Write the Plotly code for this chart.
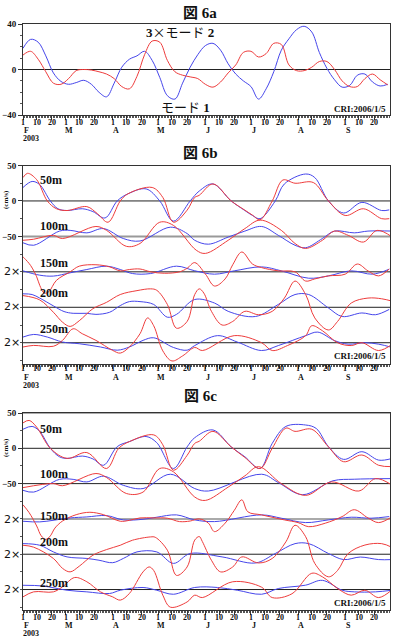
import pandas as pd
import plotly.graph_objects as go

W, H = 395, 640
START = pd.Timestamp("2003-02-01")
END = pd.Timestamp("2003-09-30 12:00")

MONTHS = [2, 3, 4, 5, 6, 7, 8, 9]
MONTH_LETTERS = ["F", "M", "A", "M", "J", "J", "A", "S"]
TICK_DAYS = [1, 10, 20]
YEAR_LABEL = "2003"

# ---------------- Panel 6a (day offsets from 2003-02-01) ----------------
A_DAYS = list(range(0, 241, 5))
a_mode2_x3 = [18.6, 26.5, 24, 12, -3, -10.5, -13, -11.5, -9.5, -13, -20, -24, -12, 2, 9, 12,
              16, 8, -7, -23, -26, -12, 2, 13, 21, 23, 17, 5, -4, -10, -15, -26, -17, -2,
              17, 27, 35, 38, 33, 15, 1, -9, -15.5, -14, -5, -4, -11, -14.5, -13]
a_mode1 = [12.7, 16, 9, -2, -12, -13, -8, -1, 0, -0.5, -2, -4, -8, -15, -17, -6, 13, 25, 24,
           8, -2, -5, -6.5, -8, -13, -15.5, -11, -3, 4, 15, 16, 11, 14, 23, 22, 4, -1, -1, 2,
           7, 7, 0, -10, -15, -15, -8, -4, -9, -13.5]

# ---------------- Panel 6b (deviation from each depth's baseline) ----------------
b50_blue_d = [0, 6, 11, 18, 23, 29, 39, 46, 54, 62, 69, 81, 90, 99, 110, 116, 125, 137, 146, 151, 156, 166, 172, 186, 192, 201, 211, 223, 236, 241]
b50_blue_v = [19, 27.5, 23, 0, -11, -13.5, -11, -15, -24, 0, 10, 17, 0, -28.5, 0, 14, 24, 0, -13.5, -20.5, -25, 0, 24, 38, 33, 0, -17, -2, -13.5, -12.6]
b50_red_d = [0, 3, 9, 16, 22, 29, 42, 49, 56, 64, 69, 85, 92, 99, 108, 113, 116, 125, 137, 146, 151, 156, 164, 171, 179, 191, 201, 212, 224, 236, 241]
b50_red_v = [33, 39, 30, 0, -11, -13.5, -8, -18, -30, 0, 10, 19, 5, -30, -13, 5, 8, 24, 0, -13, -20, -26.5, 0, 29.5, 25, 26, 0, -20.5, -11, -25, -25]

b100_blue_d = [0, 7, 24, 31, 42, 53, 66, 77, 97, 108, 113, 122, 135, 146, 157, 168, 179, 186, 197, 205, 218, 227, 243]
b100_blue_v = [-9, -12.5, 7.5, 8.5, 5, 11, -3, -6.5, 13, 4, -5.5, -11, -1, 7.5, 14, 1.5, -12.5, -16, -3, 7.5, 5, 7.5, 7.5]
b100_red_d = [0, 7, 20, 26, 48, 55, 68, 77, 90, 99, 114, 120, 135, 146, 156, 170, 179, 186, 197, 205, 214, 224, 233, 243]
b100_red_v = [-5.5, -4, 1.5, -3, 14, 8.5, -14, -10, 20, 15.5, -19.5, -24, -5.5, 11, 23, 8.5, -10, -17, -5.5, 7.5, 1.5, -8, 8.5, -1]

b150_blue_d = [0, 11, 20, 31, 42, 55, 64, 72, 84, 101, 113, 126, 139, 157, 170, 188, 201, 216, 230, 241]
b150_blue_v = [1.4, -4.7, -6, -1.4, 3.3, 8, 3.3, -2.4, -2.4, 8, 1.5, -3.3, 1.4, 7, 1.4, -9, -5.7, 1.4, -3.3, 3.8]
b150_red_d = [0, 1, 5, 9, 11, 14, 17, 22, 31, 37, 48, 57, 64, 70, 77, 84, 93, 103, 108, 113, 120, 126, 133, 138, 144, 151, 157, 168, 179, 186, 192, 201, 212, 220, 227, 234, 241]
b150_red_v = [21, 19, 9, -7, -19, -30, -28, -12, 0, 8, 10, 7, 1.4, 3.3, 4, 0, -2, 0, 5, 13, -3, -20, -10, 10, 28, 11, 6, 1.4, 0, -13, -10, -5.7, -3.3, 11, 1.4, -5.7, 4]

b200_blue_d = [0, 6, 11, 20, 27, 33, 42, 48, 57, 64, 70, 77, 86, 95, 101, 113, 126, 135, 153, 168, 179, 188, 201, 210, 223, 232, 241]
b200_blue_v = [19, 18, 13, 2, -6, -8.5, -8.5, -10, -7, 2.4, 8, 8, 4, -14, -10, 11, 6, -5.7, -13, 4, 18, 18, -1, -13, -8, -10.5, -3]
b200_red_d = [0, 11, 20, 26, 31, 37, 46, 55, 64, 75, 84, 88, 95, 101, 108, 113, 116, 119, 124, 131, 138, 146, 155, 164, 172, 179, 186, 192, 201, 207, 216, 227, 236, 243]
b200_red_v = [16.5, 10.4, -7, -21, -27, -19, -2, 7, 18, 23.5, 26, 24, 4, -29.5, -20, 18, 26, 20, -5.7, -25, -20, -5.7, -10.5, -5.7, 13, 37, 18, -15, -32, -20, 6, 13, 12, 8.6]

b250_blue_d = [0, 7, 16, 26, 37, 51, 62, 70, 79, 86, 99, 108, 113, 128, 141, 157, 168, 186, 194, 205, 214, 225, 234, 243]
b250_blue_v = [8, 11.7, 8, 1, -1.4, -6, -10.5, -6, 3.3, 7, -6.7, -10.5, -4, 10, 1, -11, -4, 10, 15, 3, -2, 0, -2, -6.7]
b250_red_d = [0, 7, 20, 26, 33, 39, 48, 59, 64, 70, 77, 82, 86, 92, 98, 105, 113, 118, 139, 157, 164, 174, 186, 190, 197, 207, 216, 223, 234, 243]
b250_red_v = [-6, -3.8, -5, 3.3, 19.7, 12.7, 3.3, -10.8, -14.6, -6, 12.7, 35, 24, -11.5, -25.7, -18.6, -6.7, -11, 10, 0, -11, -4, 10, 24, 17, 0, -4, 0, -11, -2]

# ---------------- Panel 6c ----------------
c50_blue_d = [0, 6, 11, 18, 24, 29, 39, 46, 53, 62, 70, 81, 88, 99, 108, 113, 125, 137, 146, 156, 164, 173, 186, 193, 201, 211, 223, 234, 243]
c50_blue_v = [27, 31, 24, 0, -12, -14.3, -11, -15, -24, 2.4, 9.5, 16.7, 8, -28.6, 2, 15, 26, 2, -12, -28.6, 7, 31, 33, 28, 2.4, -15.7, -4.8, -16.7, -14.3]
c50_red_d = [0, 4, 9, 18, 29, 42, 55, 63, 70, 86, 92, 99, 108, 113, 116, 125, 137, 146, 156, 164, 173, 179, 190, 201, 211, 223, 234, 243]
c50_red_v = [36, 39.5, 30, 0, -14.3, -6, -28.6, 0, 9.5, 19, 5, -31, -10, 7, 10, 24, 2, -13, -28.6, 0, 28.6, 24, 27, 2, -19, -9.5, -24, -26]

c100_blue_d = [0, 7, 24, 33, 42, 53, 66, 79, 97, 113, 122, 157, 168, 184, 204, 218, 243]
c100_blue_v = [-9.5, -12, 6, 6, 2.4, 10.5, -2.4, -7, 13.3, -7, -10.5, 13.3, 1.5, -15.7, 4, 6.2, 7.1]
c100_red_d = [0, 20, 26, 48, 55, 68, 79, 90, 99, 113, 120, 135, 146, 155, 170, 186, 203, 221, 232, 243]
c100_red_v = [-5.7, 0, -3, 14.3, 8.6, -14, -12, 21.4, 16.7, -19, -23.8, -5, 11, 24, 0, -16.7, 2.4, -10.5, 7.1, -2.4]

c150_blue_d = [0, 11, 31, 42, 55, 66, 79, 88, 101, 113, 126, 157, 170, 186, 201, 216, 229, 241]
c150_blue_v = [-3.3, -4.2, 1.4, 2.8, 4.7, -1.4, -0.5, 2.4, 5.7, -1.4, -3.8, 5.7, 1, -5.2, -1.4, 2.4, 1, 3.3]
c150_red_d = [0, 4, 9, 12, 15, 18, 21, 26, 35, 44, 53, 64, 70, 77, 86, 95, 103, 110, 116, 122, 126, 133, 139, 144, 148, 157, 172, 181, 188, 199, 210, 218, 227, 234, 243]
c150_red_v = [20, 9, -10, -24, -29, -24, -13, -3, 6, 9.4, 6, -3.3, -2, 1.4, 1.4, 1, -3.8, -3, 0, -6, -18, -6, 12, 27, 10, 5.7, -1.4, -5.2, -11, -6, 3.3, 13, 1.4, -5.2, 3.3]

c200_blue_d = [0, 11, 20, 29, 42, 50, 59, 66, 75, 88, 99, 110, 131, 153, 166, 179, 188, 201, 211, 222, 234, 243]
c200_blue_v = [15, 12.7, 3.3, -3.8, -6, -8.5, -12, -6, 3.3, 3.3, -13, 1, -3.8, -12.4, 1, 15, 15, 1, -7.6, -4, -7.6, -7.6]
c200_red_d = [0, 7, 20, 26, 31, 37, 46, 55, 64, 72, 84, 87, 95, 101, 108, 113, 116, 118, 124, 130, 138, 144, 155, 164, 173, 179, 186, 192, 201, 207, 214, 225, 236, 243]
c200_red_v = [12.7, 10, -6, -20, -25, -17, -1.4, 6.6, 12.7, 19.8, 24.5, 24, 5.7, -30, -18, 20, 25, 18, -8.6, -25, -18, -3.8, -12.4, -6, 17.6, 41, 24.8, -13, -32, -23, 1, 13, 15, 9.5]

c250_blue_d = [0, 13, 29, 42, 57, 64, 79, 88, 99, 113, 128, 141, 157, 168, 186, 197, 210, 218, 232, 243]
c250_blue_v = [6, 5, -1, -3.3, -5.6, -1, 2.9, -1, -6.7, 2.9, 2.9, -1, -6.7, 1.4, 6.2, 13, -1, -3.3, -3.3, -1]
c250_red_d = [0, 7, 20, 26, 34, 42, 51, 59, 64, 70, 79, 83, 86, 92, 97, 108, 113, 118, 138, 157, 164, 177, 190, 197, 208, 216, 225, 234, 243]
c250_red_v = [-10.4, -3.3, -3.3, 3.8, 17, 11, -3.3, -10.4, -15, -5.6, 25, 32, 27, -8, -25, -17.6, -8, -11.4, 11, 3.3, -11.4, -6, 23, 18, 0, -8, -1, -11.4, 0]

DEPTHS = ["50m", "100m", "150m", "200m", "250m"]
BASELINES = [0, -50, -100, -150, -200]

BLUE = "rgb(70,70,235)"
RED = "rgb(238,60,60)"
SERIF = "Liberation Serif"
CJK = "Noto Sans CJK JP"


def to_dates(days):
    return [START + pd.Timedelta(days=int(d)) for d in days]


def fx(x):
    return x / W


def fy(y):
    return 1 - y / H


fig = go.Figure()


def add_line(days, vals, base, color, n):
    fig.add_trace(go.Scatter(
        x=to_dates(days), y=[base + v for v in vals], mode="lines",
        line=dict(color=color, width=1, shape="spline", smoothing=1.0),
        xaxis="x" if n == 1 else f"x{n}", yaxis="y" if n == 1 else f"y{n}",
        showlegend=False, hoverinfo="skip"))


add_line(A_DAYS, a_mode2_x3, 0, BLUE, 1)
add_line(A_DAYS, a_mode1, 0, RED, 1)

panel_b = [(b50_blue_d, b50_blue_v, b50_red_d, b50_red_v),
           (b100_blue_d, b100_blue_v, b100_red_d, b100_red_v),
           (b150_blue_d, b150_blue_v, b150_red_d, b150_red_v),
           (b200_blue_d, b200_blue_v, b200_red_d, b200_red_v),
           (b250_blue_d, b250_blue_v, b250_red_d, b250_red_v)]
panel_c = [(c50_blue_d, c50_blue_v, c50_red_d, c50_red_v),
           (c100_blue_d, c100_blue_v, c100_red_d, c100_red_v),
           (c150_blue_d, c150_blue_v, c150_red_d, c150_red_v),
           (c200_blue_d, c200_blue_v, c200_red_d, c200_red_v),
           (c250_blue_d, c250_blue_v, c250_red_d, c250_red_v)]
for n, panel in ((2, panel_b), (3, panel_c)):
    for base, (bd, bv, rd, rv) in zip(BASELINES, panel):
        add_line(bd, bv, base, BLUE, n)
        add_line(rd, rv, base, RED, n)

tickvals = [pd.Timestamp(2003, m, d) for m in MONTHS for d in TICK_DAYS]
ticktext = [str(d) for m in MONTHS for d in TICK_DAYS]
tickfont = dict(family=SERIF, size=9, color="#111", weight="bold")
smallfont = dict(family=SERIF, size=8, color="#111", weight="bold")
XDOM = [fx(23), fx(390)]

panels = {
    1: dict(top=24, bot=115, rng=[-40, 40], tv=[40, 0, -40], minor=10),
    2: dict(top=165.5, bot=364, rng=[-230, 50], tv=[50, 0, -50], minor=25),
    3: dict(top=413, bot=610, rng=[-229, 50], tv=[50, 0, -50], minor=25),
}
layout = dict(width=W, height=H, margin=dict(l=0, r=0, t=0, b=0, autoexpand=False),
              paper_bgcolor="white", plot_bgcolor="white", showlegend=False)
for n, p in panels.items():
    xk = "xaxis" if n == 1 else f"xaxis{n}"
    yk = "yaxis" if n == 1 else f"yaxis{n}"
    ya = "y" if n == 1 else f"y{n}"
    xa = "x" if n == 1 else f"x{n}"
    layout[xk] = dict(domain=XDOM, anchor=ya, type="date", range=[START, END],
                      tickvals=tickvals, ticktext=ticktext, showticklabels=False,
                      ticks="outside", ticklen=4, tickcolor="#333", showgrid=False,
                      showline=True, linecolor="#333", linewidth=1, mirror=True,
                      automargin=False,
                      minor=dict(ticks="outside", ticklen=2, dtick=86400000,
                                 tick0="2003-02-01", tickcolor="#555", showgrid=False),
                      zeroline=False)
    layout[yk] = dict(domain=[fy(p["bot"]), fy(p["top"])], anchor=xa, range=p["rng"],
                      tickvals=p["tv"], tickfont=tickfont, ticks="outside", ticklen=4,
                      tickcolor="#333", showgrid=False, zeroline=False, showline=True,
                      linecolor="#333", linewidth=1, mirror=True, automargin=False,
                      minor=dict(ticks="outside", ticklen=2, dtick=p["minor"],
                                 tick0=0, tickcolor="#555", showgrid=False))
    rk = f"yaxis{n + 3}"
    layout[rk] = dict(overlaying=ya, side="right", anchor=xa, range=p["rng"],
                      domain=[fy(p["bot"]), fy(p["top"])], showticklabels=False,
                      ticks="inside", ticklen=3, tickcolor="#555", dtick=p["minor"],
                      tick0=0, showgrid=False, zeroline=False, showline=False,
                      automargin=False)

shapes = []


def hline(n, yv, color="#222", width=1):
    shapes.append(dict(type="line", xref=("x" if n == 1 else f"x{n}") + " domain",
                       yref="y" if n == 1 else f"y{n}", x0=0, x1=1, y0=yv, y1=yv,
                       line=dict(color=color, width=width), layer="below"))


hline(1, 0)
hline(2, 0)
hline(2, -50, "#999", 2)
hline(2, -100)
hline(2, -150)
hline(2, -200)
hline(3, 50, "#aaa", 2)
hline(3, 0)
hline(3, -50)
hline(3, -100, "#aaa", 2)
hline(3, -150)
hline(3, -200)
layout["shapes"] = shapes

ann = []


def text(t, x, y, size, family=SERIF, anchor="center", bold=True, color="#111", angle=0):
    ann.append(dict(text=t, x=fx(x), y=fy(y), xref="paper", yref="paper",
                    xanchor=anchor, yanchor="middle", showarrow=False, textangle=angle,
                    font=dict(family=family, size=size, color=color,
                              weight="bold" if bold else "normal")))


TITLES = ["6a", "6b", "6c"]
for label, y in zip(TITLES, [11, 151, 394]):
    text(f'<span style="font-family:{CJK}">図</span> {label}', 200, y, 15)

text(f'3<span style="font-family:{CJK};font-weight:normal">×モード</span> 2', 180, 31, 13)
text(f'<span style="font-family:{CJK};font-weight:normal">モード</span> 1', 185, 106, 13)

for y in [109, 356, 603]:
    text("CRI:2006/1/5", 388, y, 9, anchor="right")

for ys in ([180, 226, 263, 293, 329], [429, 474, 516, 542, 583]):
    for lab, y in zip(DEPTHS, ys):
        text(lab, 38, y, 12, anchor="left")

for y in [271.7, 306, 342, 519, 554, 589]:
    text("2×", 2, y, 11, family="DejaVu Sans", anchor="left", bold=False)

for y in [200, 448]:
    text("(cm/s)", 6, y, 7, angle=-90)

# date axis labels: day numbers, month initials, year
for n, yt, ym, yy in ((1, 122.5, 130, 138.5), (2, 368.5, 377, 385.5), (3, 617.5, 625, 633)):
    xa = "x" if n == 1 else f"x{n}"
    for tv, tt in zip(tickvals, ticktext):
        ann.append(dict(text=tt, x=tv, y=fy(yt), xref=xa, yref="paper",
                        xanchor="center", yanchor="middle", showarrow=False,
                        font=smallfont, borderpad=0))
    for m, letter in zip(MONTHS, MONTH_LETTERS):
        ann.append(dict(text=letter, x=pd.Timestamp(2003, m, 1), y=fy(ym), xref=xa,
                        yref="paper", xanchor="center", yanchor="middle", xshift=3,
                        showarrow=False, font=smallfont, borderpad=0))
    ann.append(dict(text=YEAR_LABEL, x=fx(22), y=fy(yy), xref="paper", yref="paper",
                    xanchor="left", yanchor="middle", showarrow=False, font=smallfont,
                    borderpad=0))

layout["annotations"] = ann
fig.update_layout(**layout)
fig.write_html("out.html", post_script="document.body.style.margin='0px';",
               config={"displayModeBar": False})
